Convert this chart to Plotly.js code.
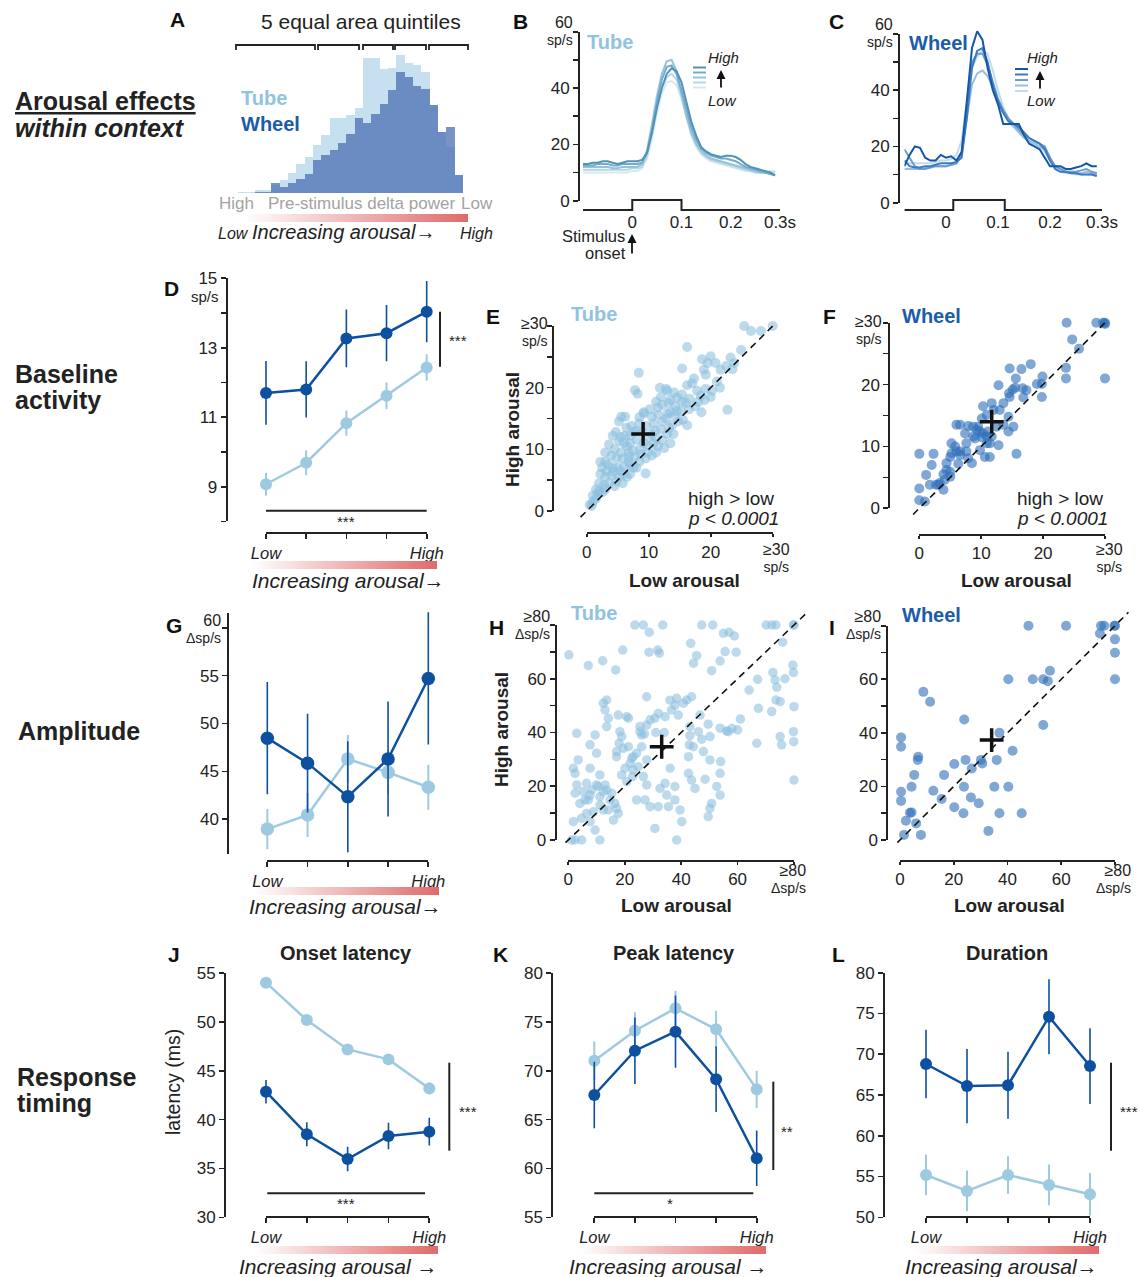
<!DOCTYPE html>
<html><head><meta charset="utf-8">
<script src="https://cdn.plot.ly/plotly-3.0.1.min.js"></script>
<style>html,body{margin:0;padding:0;background:#fff;} #chart{width:1142px;height:1277px;}</style>
</head><body><div id="chart"></div>
<script>
// ================= DATA =================
// Panel A: pre-stimulus delta power histogram (bins ordered High delta -> Low delta)
const histBins  = [0,1,2,3,4,5,6,7,8,9,10,11,12,13,14,15,16,17,18,19,20,21,22,23,24,25,26];
const histTube  = [1,1,3,3,8,13,20,29,36,48,58,75,75,78,85,135,135,124,125,138,130,128,121,88,61,46,18];
const histWheel = [0.3,0.3,0.7,1,10,6,10,14,19,33,38,43,50,59,75,70,79,89,103,121,116,107,104,88,61,66,18];

// Panel B: Tube PSTHs per arousal quintile (Q1 = low ... Q5 = high)
const timeB = [-0.10,-0.09,-0.08,-0.07,-0.06,-0.05,-0.04,-0.03,-0.02,-0.01,0,0.01,0.02,0.03,0.04,0.05,0.06,0.07,0.08,0.09,0.10,0.11,0.12,0.13,0.14,0.15,0.16,0.17,0.18,0.19,0.20,0.21,0.22,0.23,0.24,0.25,0.26,0.27,0.28,0.29];
const tubeQ1 = [10,10,10,10,10,10,10,10,10,10,10.5,10.5,11.5,15,22,31,38,42,42.5,41,36,29,23,19,16.5,15,14,13.5,13,12.5,12,11.5,11,10.5,10.5,10,10,10,10.5,10.5];
const tubeQ2 = [11,11,11,11,11,11,11,11,11,11,11.5,11.5,12,16,24,33,40,44,45,43,37,30,24,20,17,15.5,14.5,14,13.5,13,12.5,12,11.5,11,10.5,10,10,10,10,10];
const tubeQ3 = [12,12,12,12,12,12,11.5,11.5,12,12,12,12,13,18,27,37,45,49.5,50,46,38,30,24,20,17.5,16,15,14.5,14,13.5,13,12.5,12,11.5,11,10.5,10,10,9.5,9];
const tubeQ4 = [12.5,12.5,12.5,13,13,13,12.5,12.5,13,13,13,13,13.5,17,25,35,43,47.5,48,45,39,32,26,21.5,18.5,17,16,15.5,15,15,14.5,14,13,12,11.5,11,10.5,10,9.5,9];
const tubeQ5 = [13,13,13.5,13.5,14,14,13.5,13,13.5,14,14,14,14.5,17,24,33,40,45,47,46,42,35,28,23,19,17.5,16.5,16,15.5,16,16,15.5,14.5,13,12,11.5,11,10.5,10,9];

// Panel C: Wheel PSTHs per arousal quintile
const timeC = [-0.08,-0.07,-0.06,-0.05,-0.04,-0.03,-0.02,-0.01,0,0.01,0.02,0.03,0.04,0.05,0.06,0.07,0.08,0.09,0.10,0.11,0.12,0.13,0.14,0.15,0.16,0.17,0.18,0.19,0.20,0.21,0.22,0.23,0.24,0.25,0.26,0.27,0.28,0.29];
const wheelQ1 = [14,14,14,14,14,14,14.5,15,15,15.5,17,22,36,48,52,54,53,47,40,34,30,28,26,24,22,21,20,18,15,12,11,10.5,10.5,10,10,10,10,9.5];
const wheelQ2 = [12,12,12,12,12.5,12.5,13,13,13,13.5,14,18,30,42,46,47,45,41,36,32,29,27,25,23,22,21,20,19,16,13,12,11,11,10.5,10.5,11,10.5,10];
const wheelQ3 = [19,16,13,12,12,12.5,13,13,13,13.5,14,17,32,50,53,53,49,43,37,33,30,28,26,24,23,22,21,20,16,13,12,11,11,11,11.5,12,11,10.5];
const wheelQ4 = [15,13,12.5,12.5,13,13,13.5,14,14,14,14.5,16,30,48,54,55,50,42,36,32,29,28,27,25,23,22,21,19,15,12,11,11,10.5,10.5,10,10,10,9.5];
const wheelQ5 = [13,17,20,19.5,16,15,15,17,16,16.5,15,18,36,55,61,58,48,40,35,28,28,28,28,24,21,20,19,16,13,13,13,12,12,12.5,13,14,13,13];

// Quintile axis
const quintiles = [1,2,3,4,5];
const quintileLabels = ['<i>Low</i>','','','','<i>High</i>'];

// Panel D: baseline activity (sp/s)
const baseTube = [9.07,9.69,10.83,11.62,12.43];
const baseTubeErr = [0.33,0.36,0.36,0.38,0.38];
const baseWheel = [11.7,11.8,13.27,13.42,14.04];
const baseWheelErr = [0.92,0.81,0.83,0.81,0.88];

// Panel G: amplitude (Δsp/s)
const ampTube = [38.98,40.45,46.3,44.9,43.35];
const ampTubeErr = [2.1,2.3,2.5,2.3,2.35];
const ampWheel = [48.47,45.86,42.36,46.3,54.7];
const ampWheelErr = [5.85,5.15,5.8,6.0,6.9];

// Panel J: onset latency (ms)
const onsetTube = [54.04,50.21,47.2,46.18,43.2];
const onsetTubeErr = [0.55,0.5,0.5,0.55,0.6];
const onsetWheel = [42.87,38.5,35.97,38.33,38.77];
const onsetWheelErr = [1.2,1.23,1.25,1.35,1.42];

// Panel K: peak latency (ms)
const peakTube = [71.05,74.12,76.41,74.26,68.11];
const peakTubeErr = [1.96,1.9,1.8,1.9,1.9];
const peakWheel = [67.53,72.07,74.02,69.14,61.05];
const peakWheelErr = [3.4,3.4,3.7,3.35,2.85];

// Panel L: duration (ms)
const durTube = [55.19,53.23,55.19,53.97,52.82];
const durTubeErr = [2.5,2.5,2.3,2.5,2.6];
const durWheel = [68.8,66.1,66.2,74.6,68.55];
const durWheelErr = [4.2,4.55,4.1,4.6,4.65];

// Panel E: Tube baseline, [low arousal, high arousal] per neuron (sp/s)
const tubeBaseline = [[25.4,30],[26.5,29.2],[28.1,29.2],[30,30],[16.2,26.6],[8.4,22.4],[7.8,19.6],[8.2,19],[15.4,23.1],[20,25.1],[18.6,24.6],[19.5,24],[20.8,24],[23.2,24.9],[24.9,26.1],[23.8,24],[21.6,22.9],[18.9,22.9],[19.2,22.1],[17.3,21.5],[17,20.7],[16.2,20.4],[17.8,19.5],[18.4,18.7],[20,18.5],[18,17.7],[16.6,18.2],[15.4,17.7],[14.1,19.2],[14.6,18.4],[15.4,18.9],[13,19.5],[12,18.5],[11.2,17.7],[12.2,17.2],[13.2,17.5],[14.3,17],[22.7,16.4],[16.2,13.9],[19.2,19.8],[21,21],[13.5,16],[12.8,15],[11.5,15.6],[10.2,16.5],[9.2,15.8],[10.8,14.2],[12.2,14.5],[13.3,13.5],[14.2,15.5],[15.2,16.2],[11.2,11.8],[12.2,11.5],[13,12.5],[10.5,12.5],[9.6,13.8],[8.5,14.2],[7.2,13.8],[6.2,15.3],[5.6,15.3],[5.2,14.5],[4.7,12.8],[5.2,11.3],[4.2,12.2],[6.2,12.2],[7.6,12.8],[8.1,11.5],[9.2,11],[10,10.5],[10.8,11],[11.5,10.5],[8.6,10],[7.5,9.8],[6.5,10.5],[5.5,9.5],[4.5,10],[3.6,10.8],[4,9],[4.8,8.5],[5.8,8.5],[6.8,8.8],[7.8,8.8],[8.8,9.2],[9.5,6.1],[3,8],[3.5,7.5],[4.2,7],[5,7],[6,7.2],[7,7.5],[2.5,7],[2.2,6],[3,5.5],[4,5.8],[5.2,5.5],[6,6],[7,6],[8,7],[2,4.5],[2.8,4.2],[3.6,4.5],[4.5,4],[1.5,3.5],[1,2.5],[1.8,2.8],[2.5,3],[0.5,1],[1,1.5],[0.8,0.8],[1.5,2],[3,3.5],[2,3.2],[3.2,6.5],[4.3,6.4],[5.5,6.5],[6.5,5.5],[5.8,4.5],[4.8,4.8],[6.8,8],[7.5,7],[8.5,8],[9.5,8.5],[10.5,9],[11.2,9.5],[12.5,10.2],[13.5,11],[12,13.2],[14,12.5],[14.8,14.5],[15.5,14.8],[13.8,14],[11,13],[10,12],[9,12.8],[8,13],[7,11],[6,11],[5.5,12],[3,9.5],[2.2,8],[6.8,9.5],[9.8,9.5],[16.5,16.5],[17.5,17],[18.5,16],[19,18],[20.2,19.5],[21.5,20],[22.5,23.5],[23.5,23],[10.5,15.3],[9.2,16],[8.5,15.2],[11.5,16.8],[13.5,18],[12.8,19.8],[11.8,20],[7,12.2],[6.4,13.5],[13,15.8],[14.5,16.2],[16,17.5]];
const tubeBaselineMean = [9.1, 12.5];

// Panel F: Wheel baseline [low, high] (sp/s)
const wheelBaseline = [[23.8,30],[28.6,30],[29.7,30],[30,30],[30,29.8],[24.7,27.3],[25.8,25.8],[23.7,22.7],[23.7,21],[30,21],[19.9,21.3],[19.8,20.1],[19.8,18],[19,20.1],[18,23.3],[16.5,22.5],[14.6,22.6],[15.6,21],[15.5,19.5],[15.1,19.2],[16.7,19.4],[16.8,17.9],[12.8,19.9],[14.5,18.6],[14.6,18],[13.6,17],[13,15.9],[14.4,14.8],[14.4,12.4],[15.7,8.8],[11.4,8.3],[12,15.9],[11.7,17],[10.3,16.5],[10.9,15.1],[10.1,14.5],[9.5,13.2],[8.7,11.6],[9,11.3],[9.3,12.7],[9.8,12.4],[10.3,12.1],[10.9,10.5],[11.4,10.5],[12.8,10.2],[11.7,11.6],[12.5,13.2],[6,13.5],[6.6,13.5],[7.9,13.3],[7.4,12.1],[8.7,13.2],[5.2,10.5],[5.8,10],[6,9.2],[6.6,9.2],[7.6,9.2],[8.5,7.3],[6.3,7.2],[6.6,8.6],[5.2,8.9],[5,8.3],[4.4,7.3],[0,8.8],[2.3,8.8],[1.1,5.4],[1.7,3.8],[2,7],[0,3.2],[0,1.3],[0.9,1.1],[2.7,3.8],[3.3,4.1],[4.1,4.6],[3.9,5.5],[4.4,6.2],[5,5.9],[5,5.1],[3.9,3],[3.1,3.8],[7.9,8.1],[7.6,10.5],[9.8,9.4],[10.6,8.3],[10.9,11.6],[11.1,12.4],[10.1,11.5],[15.2,13.2],[13.6,13.5],[17.3,19.1]];
const wheelBaselineMean = [11.7, 14];

// Panel H: Tube amplitude [low, high] (Δsp/s)
const tubeAmplitude = [[23.6,80],[26.6,80],[33.5,80],[47.3,80],[51.2,80],[70.1,80],[72.1,80],[73.6,80],[79.8,80],[80,80],[0.2,68.9],[7.1,64.9],[12.2,66.7],[16.8,63.3],[19.3,70.7],[28.7,77.3],[28.6,69.9],[31.7,70.7],[32.3,69.5],[43.4,73.2],[45.5,68.6],[44.4,65.8],[50.8,63],[53.8,66.6],[55.6,70.1],[55,76.9],[57,77.3],[58.9,75.9],[59.5,69.9],[64.1,55.8],[67.1,59.8],[67.4,49],[66.8,36],[72.5,62.3],[73.3,59.6],[73.9,56.8],[73.6,52.1],[75.1,51.5],[76.8,60],[76,73.6],[72.1,47.8],[75.1,38.5],[75.6,35.4],[79.6,65.1],[79.8,62.3],[80,49.6],[79.8,40.3],[79.9,36.6],[80,22.3],[56.1,40.6],[56.7,40.3],[53.8,41.6],[49.6,43.1],[50.2,38.5],[47.3,37.5],[46.7,46.5],[46.1,40.3],[47.9,32.9],[50.2,29.8],[54,29.2],[53.8,24.8],[48.5,22.6],[52.6,19.9],[50.8,13.6],[50.2,11.8],[49.6,8.7],[53.8,16.7],[43.1,38.8],[42.9,35.4],[44.3,34.7],[42.6,31],[43.1,42.2],[42,52.1],[43.7,53.3],[40.8,50.9],[37.8,50.2],[38.4,52.7],[36.6,48.4],[39,46.5],[34.3,45.9],[31.9,47.1],[30.7,45.3],[29,44.7],[27.8,42.8],[25.4,42.2],[26,39.1],[26,34.7],[27.8,29.8],[24.8,27.3],[23,26.1],[22.8,23.6],[26.6,23.6],[27.8,20.5],[27.2,14.9],[29,12.4],[24.2,14.9],[30.7,4.3],[31.9,12.4],[36.1,26.7],[34.3,21.1],[32.5,19.2],[34.9,16.7],[37.8,19.9],[37.8,14.9],[35.5,12.4],[38.4,0],[40.2,6.8],[42.6,24.8],[43.7,22.3],[44.9,19.2],[39.6,11.2],[17.7,46.5],[18.3,40.3],[18.9,38.5],[19.5,34.1],[17.1,31],[17.1,32.9],[20.1,26.7],[18.9,24.2],[20.7,21.7],[21.9,28.5],[22.5,30.4],[23,31],[21.3,34.7],[20.7,45.9],[21.3,45.3],[24.2,32.3],[13.6,52.1],[12.4,50.9],[13,48.4],[13.6,42.2],[14.2,45.3],[9.5,39.1],[10,32.3],[7.7,26.7],[11.2,24.2],[13,20.5],[12.4,18],[13.6,18.6],[14.8,14.9],[14.2,11.2],[16,7.4],[16.5,13.6],[17.7,9.9],[17.1,11.8],[15.4,17.4],[11.2,16.1],[8.3,18.6],[7.7,16.7],[5.9,14.9],[5.3,18],[4.7,8.1],[6.5,9.9],[7.7,6.8],[9.5,3.7],[1.8,26.7],[2.4,24.8],[3,20.5],[2.4,17.4],[1.8,6.8],[1.2,0],[2.4,0],[4.7,0],[11.2,0],[3,39.7],[7.7,35.4],[3.5,29.8],[4.1,13.6],[6.5,21.1],[10,20.5],[11.2,13],[8.9,10.5],[7.1,14.9],[12.4,11.2],[10.6,19.9],[27.8,53.3],[25.4,40.3],[27,39.5],[18,36],[60,41],[61,45],[58,41.5],[36,52],[34,40],[31,40]];
const tubeAmplitudeMean = [33.1, 34.7];

// Panel I: Wheel amplitude [low, high] (Δsp/s)
const wheelAmplitude = [[47.8,80],[61.8,80],[74.8,80],[76,80],[80,80],[79.8,80],[74.4,77.1],[80,74.9],[80,69.9],[80,60],[40.3,60],[49.4,60],[53.3,60],[55,59.3],[55.8,63.2],[53.3,42.9],[8.7,55.3],[11.2,51.6],[23.9,45],[37,40],[41.9,33.3],[0.4,38.3],[0.4,34.8],[6.8,31.1],[6.6,29.9],[24.4,29.9],[30.1,29.9],[30.6,28.6],[36,29.9],[26.7,26.7],[20.2,28.4],[16.4,24.3],[5.3,24.3],[4.3,19.9],[12.4,18.4],[15.5,15.3],[0.4,18],[0.4,14.6],[23.8,19.9],[35.1,19.9],[40.3,19.9],[26.4,15.9],[29.3,13.7],[20.2,12.2],[23.6,10],[37,10],[45.3,10],[3.7,10.2],[4.3,10.3],[2.2,7.2],[6,6.2],[1.5,1.9],[7.8,1.9],[32.9,3.4]];
const wheelAmplitudeMean = [34.1, 37.3];

// ================= STYLE / LAYOUT HELPERS =================
const FONT = 'Liberation Sans, Arial, Helvetica, sans-serif';
const W = 1142, H = 1277;
const PX = p => p / W;
const PY = p => 1 - p / H;
const lin = (p0, v0, p1, v1) => v => p0 + (v - v0) * (p1 - p0) / (v1 - v0);
const TUBE = '#9ecae1', WHEEL = '#0d50a0';
const TUBE_TXT = '#8fc3e0', WHEEL_TXT = '#1a5ca8';
const INK = '#222';

const data = [];
const layout = {
  width: W, height: H, margin: {l:0, r:0, t:0, b:0, pad:0},
  paper_bgcolor: '#fff', plot_bgcolor: 'rgba(0,0,0,0)',
  showlegend: false, barmode: 'overlay', bargap: 0, hovermode: false,
  font: {family: FONT, size: 17, color: INK},
  annotations: [], shapes: [], images: []
};
let nAx = 0;
function newId() { nAx++; return nAx === 1 ? '' : String(nAx); }

function dataAxes(xm, ym, xr, yr) {
  const id = newId();
  layout['xaxis' + id] = {domain: [PX(xm(xr[0])), PX(xm(xr[1]))], range: xr, visible: false, fixedrange: true, anchor: 'y' + id};
  layout['yaxis' + id] = {domain: [PY(ym(yr[0])), PY(ym(yr[1]))], range: yr, visible: false, fixedrange: true, anchor: 'x' + id};
  return {xaxis: 'x' + id, yaxis: 'y' + id};
}
function axisStyle(o) {
  const s = {
    showline: o.showline !== false, linecolor: INK, linewidth: 2,
    ticks: o.ticks === undefined ? 'outside' : o.ticks, ticklen: o.ticklen || 5, tickwidth: 1.6, tickcolor: INK,
    tickmode: 'array', tickvals: o.vals, ticktext: o.text,
    tickfont: {family: FONT, size: o.size || 17, color: INK},
    showgrid: false, zeroline: false, fixedrange: true, anchor: 'free', range: o.range
  };
  if (o.minor) s.minor = {tickmode: 'array', tickvals: o.minor, ticks: 'outside', ticklen: 5, tickwidth: 1.6, tickcolor: INK, showgrid: false};
  return s;
}
function displayAxes(xm, ym, xo, yo) {
  const id = newId();
  const xa = axisStyle(xo);
  xa.domain = [PX(xm(xo.range[0])), PX(xm(xo.range[1]))]; xa.position = PY(xo.pos);
  const ya = axisStyle(yo);
  ya.domain = [PY(ym(yo.range[0])), PY(ym(yo.range[1]))]; ya.position = PX(yo.pos);
  layout['xaxis' + id] = xa; layout['yaxis' + id] = ya;
  data.push({type: 'scatter', mode: 'markers', x: [null], y: [null], xaxis: 'x' + id, yaxis: 'y' + id, hoverinfo: 'skip', showlegend: false});
}
function txt(x, y, t, o = {}) {
  layout.annotations.push({xref: 'paper', yref: 'paper', x: PX(x), y: PY(y), text: t, showarrow: false,
    xanchor: o.xa || 'center', yanchor: o.ya || 'middle', textangle: o.angle || 0, align: o.align || 'center',
    font: {family: FONT, size: o.size || 17, color: o.color || INK}});
}
// two-line "value / unit" label (tight line spacing, like the reference)
function unitLabel(x, y, top, unit, xa) {
  txt(x, y, '<span style="font-size:16px">' + top + '</span><br><span style="font-size:14px">' + unit + '</span>',
    {xa: xa || 'center', align: xa === 'right' ? 'right' : 'center', size: 13});
}
function arrowUp(x, yHead, yTail) {
  layout.annotations.push({xref: 'paper', yref: 'paper', x: PX(x), y: PY(yHead), ax: 0, ay: yTail - yHead, axref: 'pixel', ayref: 'pixel',
    text: '', showarrow: true, arrowhead: 2, arrowsize: 1, arrowwidth: 1.8, arrowcolor: '#111'});
}
function pline(x0, y0, x1, y1, color, width) {
  layout.shapes.push({type: 'line', xref: 'paper', yref: 'paper', x0: PX(x0), y0: PY(y0), x1: PX(x1), y1: PY(y1), line: {color: color || INK, width: width || 2}});
}
const gradSVG = 'data:image/svg+xml;charset=utf-8,' + encodeURIComponent(
  '<svg xmlns="http://www.w3.org/2000/svg" width="200" height="10" viewBox="0 0 200 10" preserveAspectRatio="none">' +
  '<defs><linearGradient id="g" x1="0" y1="0" x2="1" y2="0"><stop offset="0" stop-color="#ffffff"/><stop offset="1" stop-color="#e06a6a"/></linearGradient></defs>' +
  '<rect width="200" height="10" fill="url(#g)"/></svg>');
function grad(x0, x1, y0, y1) {
  layout.images.push({source: gradSVG, xref: 'paper', yref: 'paper', x: PX(x0), y: PY(y0), sizex: (x1 - x0) / W, sizey: (y1 - y0) / H,
    xanchor: 'left', yanchor: 'top', sizing: 'stretch', layer: 'above'});
}
const AROUSAL_SIZE = 21;

// ================= PANEL A =================
{
  const xm = lin(238, -0.5, 463, 26.5), ym = lin(193, 0, 53, 140);
  const ax = dataAxes(xm, ym, [-0.5, 26.5], [0, 140]);
  data.push({type: 'bar', x: histBins, y: histTube, width: 1, marker: {color: '#c6e0ef', line: {width: 0}}, ...ax, hoverinfo: 'skip'});
  data.push({type: 'bar', x: histBins, y: histWheel, width: 1, marker: {color: 'rgba(75,112,180,0.75)', line: {width: 0}}, ...ax, hoverinfo: 'skip'});
  const brackets = [[236, 315], [318, 359], [363, 393], [395, 426], [429, 468]];
  brackets.forEach(b => {
    layout.shapes.push({type: 'path', xref: 'paper', yref: 'paper',
      path: `M ${PX(b[0])},${PY(50)} L ${PX(b[0])},${PY(45)} L ${PX(b[1])},${PY(45)} L ${PX(b[1])},${PY(50)}`,
      line: {color: INK, width: 1.8}});
  });
  txt(361, 22, '5 equal area quintiles', {size: 21});
  txt(239, 98, '<b>Tube</b>', {xa: 'left', size: 20, color: TUBE_TXT});
  txt(239, 124, '<b>Wheel</b>', {xa: 'left', size: 20, color: WHEEL_TXT});
  txt(236, 204, 'High', {size: 17, color: '#a3a3a3'});
  txt(361, 204, 'Pre-stimulus delta power', {size: 17, color: '#a3a3a3'});
  txt(477, 204, 'Low', {size: 17, color: '#a3a3a3'});
  grad(244, 468, 214, 222);
  txt(233, 234, '<i>Low</i>', {size: 16});
  txt(344, 232, '<i>Increasing arousal→</i>', {size: 20});
  txt(476, 234, '<i>High</i>', {size: 16});
}

// ================= PANELS B & C =================
function psthPanel(xm, ym, xr, times, series, colors, yAxisX, ticksText, pulse) {
  const ax = dataAxes(xm, ym, xr, [0, 64]);
  series.forEach((s, i) => data.push({type: 'scatter', mode: 'lines', x: times, y: s, line: {color: colors[i], width: 2}, ...ax, hoverinfo: 'skip'}));
  displayAxes(xm, ym,
    {range: xr, pos: 210, showline: false, ticks: '', vals: [0, 0.1, 0.2, 0.3], text: ticksText},
    {range: [0, 60], pos: yAxisX, vals: [0, 20, 40, 60], text: ['0', '20', '40', ''], minor: [10, 30, 50]});
  layout.shapes.push({type: 'path', xref: ax.xaxis, yref: 'paper',
    path: `M ${xr[0]},${PY(210)} L ${pulse[0]},${PY(210)} L ${pulse[0]},${PY(200)} L ${pulse[1]},${PY(200)} L ${pulse[1]},${PY(210)} L ${xr[1]},${PY(210)}`,
    line: {color: INK, width: 2}});
}
{
  const xm = lin(583, -0.1, 780, 0.3), ym = lin(200.7, 0, 31.7, 60);
  const cols = ['#d6e8f2', '#b7d6e8', '#96c2da', '#75abcb', '#5093b7'];
  psthPanel(xm, ym, [-0.1, 0.3], timeB, [tubeQ1, tubeQ2, tubeQ3, tubeQ4, tubeQ5], cols, 579, ['0', '0.1', '0.2', '0.3s'], [0, 0.1]);
  unitLabel(575, 31, '60', 'sp/s', 'right');
  txt(610, 42, '<b>Tube</b>', {size: 20, color: TUBE_TXT});
  [67.5, 72.5, 77.5, 82.5, 87.5].forEach((y, i) => pline(693, y, 706, y, cols[4 - i], 2));
  txt(723, 57, '<i>High</i>', {size: 15});
  txt(722, 101, '<i>Low</i>', {size: 15});
  arrowUp(721, 70, 89);
  txt(593, 236, 'Stimulus', {size: 16.5});
  txt(605, 253, 'onset', {size: 16.5});
  arrowUp(632, 234, 255);
}
{
  const xm = lin(946, 0, 1102, 0.3), ym = lin(202.7, 0, 34, 60);
  const cols = ['#c3daee', '#9bbde1', '#6d9dd0', '#3d7bbf', '#1456a8'];
  psthPanel(xm, ym, [-0.08, 0.3], timeC, [wheelQ1, wheelQ2, wheelQ3, wheelQ4, wheelQ5], cols, 899, ['0', '0.1', '0.2', '0.3s'], [0.014, 0.113]);
  unitLabel(895, 33, '60', 'sp/s', 'right');
  txt(938, 43, '<b>Wheel</b>', {size: 20, color: WHEEL_TXT});
  [69, 74.5, 80, 85.5, 91].forEach((y, i) => pline(1015, y, 1028, y, cols[4 - i], 2));
  txt(1042, 57, '<i>High</i>', {size: 15});
  txt(1041, 101, '<i>Low</i>', {size: 15});
  arrowUp(1040, 71, 90);
}

// ================= LINE PANELS (D, G, J, K, L) =================
function linePanel(xm, ym, yDisp, yVals, yText, yMinor, yAxisX, xAxisY, tY, tE, wY, wE, msize) {
  const ms = msize || 12;
  const ax = dataAxes(xm, ym, [0.5, 5.5], [yDisp[0] - 3, yDisp[1] + 3]);
  data.push({type: 'scatter', mode: 'lines+markers', x: quintiles, y: tY, ...ax, cliponaxis: false, hoverinfo: 'skip',
    error_y: {type: 'data', array: tE, visible: true, color: TUBE, thickness: 2, width: 0},
    line: {color: TUBE, width: 2.5}, marker: {color: TUBE, size: ms}});
  data.push({type: 'scatter', mode: 'lines+markers', x: quintiles, y: wY, ...ax, cliponaxis: false, hoverinfo: 'skip',
    error_y: {type: 'data', array: wE, visible: true, color: WHEEL, thickness: 1.6, width: 0},
    line: {color: WHEEL, width: 2.5}, marker: {color: WHEEL, size: ms}});
  displayAxes(xm, ym,
    {range: [1, 5], pos: xAxisY, vals: quintiles, text: quintileLabels, size: 16.5},
    {range: yDisp, pos: yAxisX, vals: yVals, text: yText, minor: yMinor});
}
// D
linePanel(lin(266, 1, 426.7, 5), lin(486.7, 9, 278.3, 15), [8, 15], [9, 11, 13, 15], ['9', '11', '13', '15'], [8, 10, 12, 14], 226.7, 533.3,
  baseTube, baseTubeErr, baseWheel, baseWheelErr, 12);
txt(205, 297, 'sp/s', {size: 15});
pline(440, 311.7, 440, 366.7); txt(458, 340, '***', {size: 15});
pline(266, 510.7, 426.7, 510.7); txt(346, 521, '***', {size: 15});
grad(252, 437, 561, 569);
txt(348, 580, '<i>Increasing arousal→</i>', {size: AROUSAL_SIZE});
// G
linePanel(lin(267.3, 1, 428.3, 5), lin(819.3, 40, 627.7, 60), [36.4, 61.5], [40, 45, 50, 55, 60], ['40', '45', '50', '55', ''], null, 228.3, 861,
  ampTube, ampTubeErr, ampWheel, ampWheelErr, 13.5);
unitLabel(223, 629, '60', 'Δsp/s', 'right');
grad(254, 439, 887, 895);
txt(345, 906, '<i>Increasing arousal→</i>', {size: AROUSAL_SIZE});
// J
linePanel(lin(266, 1, 429.3, 5), lin(1217.3, 30, 973.3, 55), [30, 55], [30, 35, 40, 45, 50, 55], ['30', '35', '40', '45', '50', '55'], null, 225, 1217.3,
  onsetTube, onsetTubeErr, onsetWheel, onsetWheelErr, 12);
txt(346, 953, '<b>Onset latency</b>', {size: 20});
txt(173, 1082, 'latency (ms)', {size: 19.5, angle: -90});
pline(449.3, 1062.7, 449.3, 1150.7); txt(468, 1111, '***', {size: 15});
pline(267.3, 1193.3, 425, 1193.3); txt(346, 1203, '***', {size: 15});
grad(254, 438, 1246, 1254);
txt(338, 1266, '<i>Increasing arousal →</i>', {size: AROUSAL_SIZE});
// K
linePanel(lin(594.3, 1, 756.7, 5), lin(1217.3, 55, 973.3, 80), [55, 80], [55, 60, 65, 70, 75, 80], ['55', '60', '65', '70', '75', '80'], null, 552.3, 1217.3,
  peakTube, peakTubeErr, peakWheel, peakWheelErr, 12);
txt(674, 953, '<b>Peak latency</b>', {size: 20});
pline(773.3, 1081.7, 773.3, 1170); txt(787, 1131, '**', {size: 15});
pline(594.3, 1193.3, 753.3, 1193.3); txt(670, 1203, '*', {size: 15});
grad(580, 766, 1246, 1254);
txt(668, 1266, '<i>Increasing arousal →</i>', {size: AROUSAL_SIZE});
// L
linePanel(lin(926, 1, 1090, 5), lin(1217.3, 50, 972.7, 80), [50, 80], [50, 55, 60, 65, 70, 75, 80], ['50', '55', '60', '65', '70', '75', '80'], null, 884, 1217.3,
  durTube, durTubeErr, durWheel, durWheelErr, 12);
txt(1007, 953, '<b>Duration</b>', {size: 20});
pline(1111, 1062.7, 1111, 1150.7); txt(1129, 1111, '***', {size: 15});
grad(914, 1099, 1246, 1254);
txt(1001, 1266, '<i>Increasing arousal→</i>', {size: AROUSAL_SIZE});

// ================= SCATTER PANELS (E, F, H, I) =================
function scatterPanel(xm, ym, dr, maxV, diagEnd, pts, mean, color, size, ticks, tickText, minorY, yAxisX, xAxisY) {
  const ax = dataAxes(xm, ym, dr, dr);
  data.push({type: 'scatter', mode: 'markers', x: pts.map(p => p[0]), y: pts.map(p => p[1]), ...ax, hoverinfo: 'skip',
    marker: {color: color, size: size, line: {width: 0}}});
  data.push({type: 'scatter', mode: 'lines', x: [-1, diagEnd], y: [-1, diagEnd], ...ax, hoverinfo: 'skip',
    line: {color: '#111', width: 1.6, dash: '7px,5px'}});
  data.push({type: 'scatter', mode: 'markers', x: [mean[0]], y: [mean[1]], ...ax, hoverinfo: 'skip',
    marker: {symbol: 'cross-thin', size: 17, color: '#111', line: {width: 3.5, color: '#111'}}});
  displayAxes(xm, ym,
    {range: [0, maxV], pos: xAxisY, vals: ticks, text: tickText, ticklen: 3},
    {range: [0, maxV], pos: yAxisX, vals: ticks, text: tickText, minor: minorY});
}
const TUBE_DOT = 'rgba(140,192,222,0.58)', WHEEL_DOT = 'rgba(45,110,185,0.6)';
// E
scatterPanel(lin(586.7, 0, 772.7, 30), lin(511, 0, 326, 30), [-1.6, 31.6], 30, 30, tubeBaseline, tubeBaselineMean, TUBE_DOT, 10,
  [0, 10, 20, 30], ['0', '10', '20', ''], [5, 15, 25], 553.3, 533.3);
txt(594, 314, '<b>Tube</b>', {size: 20, color: TUBE_TXT});
unitLabel(550, 332, '≥30', 'sp/s', 'right');
unitLabel(776, 558, '≥30', 'sp/s');
txt(731, 498, 'high > low', {size: 19});
txt(733, 518, '<i>p < 0.0001</i>', {size: 19});
txt(512, 430, '<b>High arousal</b>', {size: 19, angle: -90});
txt(684, 580, '<b>Low arousal</b>', {size: 19});
// F
scatterPanel(lin(919.3, 0, 1105, 30), lin(508.3, 0, 322.7, 30), [-1.6, 31.6], 30, 30, wheelBaseline, wheelBaselineMean, WHEEL_DOT, 10,
  [0, 10, 20, 30], ['0', '10', '20', ''], [5, 15, 25], 889.3, 535);
txt(931, 316, '<b>Wheel</b>', {size: 20, color: WHEEL_TXT});
unitLabel(884, 330, '≥30', 'sp/s', 'right');
unitLabel(1109, 558, '≥30', 'sp/s');
txt(1060, 498, 'high > low', {size: 19});
txt(1062, 518, '<i>p < 0.0001</i>', {size: 19});
txt(1016, 580, '<b>Low arousal</b>', {size: 19});
// H
scatterPanel(lin(568.3, 0, 794, 80), lin(840, 0, 625, 80), [-2, 86], 80, 85, tubeAmplitude, tubeAmplitudeMean, TUBE_DOT, 9.5,
  [0, 20, 40, 60, 80], ['0', '20', '40', '60', ''], [10, 30, 50, 70], 555.7, 861);
txt(594, 613, '<b>Tube</b>', {size: 20, color: TUBE_TXT});
unitLabel(552, 625, '≥80', 'Δsp/s', 'right');
unitLabel(808, 879, '≥80', 'Δsp/s', 'right');
txt(501, 730, '<b>High arousal</b>', {size: 19, angle: -90});
txt(676, 905, '<b>Low arousal</b>', {size: 19});
// I
scatterPanel(lin(900, 0, 1115, 80), lin(840, 0, 625.7, 80), [-2, 86], 80, 85, wheelAmplitude, wheelAmplitudeMean, WHEEL_DOT, 10,
  [0, 20, 40, 60, 80], ['0', '20', '40', '60', ''], [10, 30, 50, 70], 887.3, 861);
txt(931, 615, '<b>Wheel</b>', {size: 20, color: WHEEL_TXT});
unitLabel(883, 625, '≥80', 'Δsp/s', 'right');
unitLabel(1133, 879, '≥80', 'Δsp/s', 'right');
txt(1009, 905, '<b>Low arousal</b>', {size: 19});

// ================= ROW LABELS & PANEL LETTERS =================
txt(13, 101, '<b><u>Arousal effects</u></b>', {xa: 'left', size: 25});
txt(13, 128, '<b><i>within context</i></b>', {xa: 'left', size: 25});
txt(13, 374, '<b>Baseline</b>', {xa: 'left', size: 25});
txt(13, 400, '<b>activity</b>', {xa: 'left', size: 25});
txt(16, 731, '<b>Amplitude</b>', {xa: 'left', size: 25});
txt(15, 1077, '<b>Response</b>', {xa: 'left', size: 25});
txt(15, 1103, '<b>timing</b>', {xa: 'left', size: 25});
[['A', 177, 20], ['B', 520, 21], ['C', 836, 21], ['D', 172, 288], ['E', 493, 316], ['F', 829, 316],
 ['G', 174, 626], ['H', 496, 627], ['I', 832, 627], ['J', 174, 954], ['K', 500, 954], ['L', 838, 954]]
  .forEach(l => txt(l[1], l[2], '<b>' + l[0] + '</b>', {size: 21, color: '#111'}));

Plotly.newPlot('chart', data, layout, {staticPlot: true, displayModeBar: false});
</script>
</body></html>
